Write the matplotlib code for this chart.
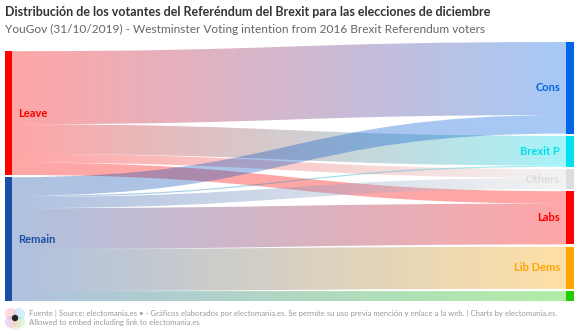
import numpy as np
import matplotlib
matplotlib.use("Agg")
import matplotlib.pyplot as plt
from matplotlib.path import Path
from matplotlib.patches import PathPatch, Rectangle, Circle
from matplotlib.colors import to_rgb

# data (percent of each referendum group)
sources = ["Leave", "Remain"]
targets = ["Cons", "Brexit P", "Others", "Labs", "Lib Dems", "Green"]
leave_vals = [59, 24, 7, 10, 0, 0]
remain_vals = [15, 1, 9, 33, 34, 8]

src_colors = ["#ff0000", "#1a4fa5"]
tgt_colors = ["#0066e6", "#00dfee", "#dddddd", "#ff0000", "#ffa500", "#22cc00"]
tgt_labels = ["Cons", "Brexit P", "Others", "Labs", "Lib Dems", ""]

title = "Distribución de los votantes del Referéndum del Brexit para las elecciones de diciembre"
subtitle = "YouGov (31/10/2019) - Westminster Voting intention from 2016 Brexit Referendum voters"

flows = np.array([leave_vals, remain_vals], dtype=float)

W, H = 580, 334
fig = plt.figure(figsize=(W / 100, H / 100), dpi=100)
ax = fig.add_axes([0, 0, 1, 1])
ax.set_xlim(0, W)
ax.set_ylim(H, 0)
ax.axis("off")

# layout
top, bottom, pad = 42, 301, 2.3
src_tot = flows.sum(axis=1)
tgt_tot = flows.sum(axis=0)
k = (bottom - top - (len(targets) - 1) * pad) / tgt_tot.sum()

def column(tots):
    h = tots * k
    total = h.sum() + pad * (len(tots) - 1)
    y = bottom - total
    pos = []
    for v in h:
        pos.append(y)
        y += v + pad
    return np.array(pos), h

sy, sh = column(src_tot)
ty, th = column(tgt_tot)

xl0, xl1 = 5, 12
xr0, xr1 = 566, 574

# links, gradient from source colour to target colour
s_off = sy.copy()
alpha = 0.35
for i in range(len(sources)):
    for j in range(len(targets)):
        v = flows[i, j] * k
        if v <= 0:
            continue
        ya0 = s_off[i]
        ya1 = ya0 + v
        yb0 = ty[j] + flows[:i, j].sum() * k
        yb1 = yb0 + v
        s_off[i] += v
        xm = (xl1 + xr0) / 2
        verts = [(xl1, ya0), (xm, ya0), (xm, yb0), (xr0, yb0),
                 (xr0, yb1), (xm, yb1), (xm, ya1), (xl1, ya1), (xl1, ya0)]
        codes = [Path.MOVETO, Path.CURVE4, Path.CURVE4, Path.CURVE4,
                 Path.LINETO, Path.CURVE4, Path.CURVE4, Path.CURVE4, Path.CLOSEPOLY]
        patch = PathPatch(Path(verts, codes), facecolor="none", edgecolor="none")
        ax.add_patch(patch)
        c0 = np.array(to_rgb(src_colors[i]))
        c1 = np.array(to_rgb(tgt_colors[j]))
        t = np.linspace(0, 1, 256)[:, None]
        img = np.ones((1, 256, 4))
        img[0, :, :3] = c0 * (1 - t) + c1 * t
        img[0, :, 3] = alpha
        im = ax.imshow(img, extent=(xl1, xr0, bottom, top), aspect="auto",
                       interpolation="bilinear", zorder=1)
        im.set_clip_path(patch)

ax.set_xlim(0, W)
ax.set_ylim(H, 0)

# nodes
for i in range(len(sources)):
    ax.add_patch(Rectangle((xl0, sy[i]), xl1 - xl0, sh[i], color=src_colors[i], zorder=3, lw=0))
    ax.text(18, sy[i] + sh[i] / 2, sources[i], color=src_colors[i], fontsize=8,
            fontweight="bold", family="Lato", va="center", ha="left", zorder=4)
for j in range(len(targets)):
    ax.add_patch(Rectangle((xr0, ty[j]), xr1 - xr0, th[j], color=tgt_colors[j], zorder=3, lw=0))
    if tgt_labels[j]:
        ax.text(560, ty[j] + th[j] / 2, tgt_labels[j], color=tgt_colors[j], fontsize=8,
                fontweight="bold", family="Lato", va="center", ha="right", zorder=4)

# titles
ax.text(5, 12, title, fontsize=9.0, fontweight="bold", color="#333333", family="Lato",
        va="center", ha="left")
ax.text(5, 29, subtitle, fontsize=8.6, color="#666666", family="Lato", va="center", ha="left")

# footer logo
for (dx, dy, c) in [(-4, -4, "#ffb3b3"), (4, -4, "#b3d9ff"), (4, 4, "#b3f0c0"),
                    (-4, 4, "#d9b3ff"), (0, 6, "#ffd9b3")]:
    ax.add_patch(Circle((15 + dx, 318 + dy), 6, color=c, alpha=0.5, lw=0, zorder=2))
ax.add_patch(Circle((15, 318), 3.2, color="#222222", lw=0, zorder=3))

foot1 = ("Fuente | Source: electomania.es \u2022 - Gráficos elaborados por electomania.es. "
         "Se permite su uso previa mención y enlace a la web. | Charts by electomania.es.")
foot2 = "Allowed to embed including link to electomania.es"
ax.text(29, 313, foot1, fontsize=5.6, color="#999999", family="Lato", va="center", ha="left")
ax.text(29, 323, foot2, fontsize=5.6, color="#999999", family="Lato", va="center", ha="left")

fig.savefig("out.png", dpi=100)
